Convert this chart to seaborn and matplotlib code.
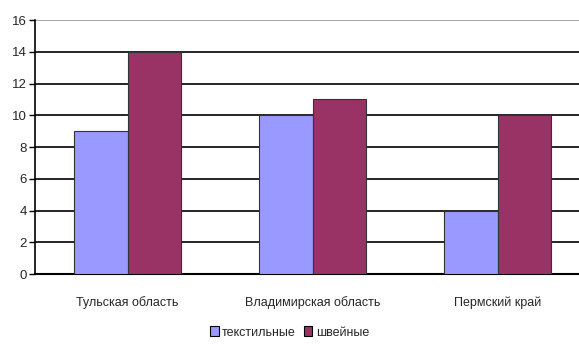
import matplotlib
matplotlib.use("Agg")
import matplotlib.pyplot as plt
import seaborn as sns
import pandas as pd
from matplotlib.patches import Patch

categories = ["Тульская область", "Владимирская область", "Пермский край"]
series_names = ["текстильные", "швейные"]
textile = [9, 10, 4]
sewing = [14, 11, 10]
yticks = [0, 2, 4, 6, 8, 10, 12, 14, 16]
colors = ["#9999FF", "#993366"]

df = pd.DataFrame({
    "cat": categories * 2,
    "series": [series_names[0]] * 3 + [series_names[1]] * 3,
    "val": textile + sewing,
})

sns.set_style("white")
plt.rcParams["font.family"] = ["Liberation Sans", "DejaVu Sans"]

fig = plt.figure(figsize=(5.79, 3.48), dpi=100)
ax = fig.add_axes([0.0605, 0.2126, 0.9585, 0.7299])

sns.barplot(data=df, x="cat", y="val", hue="series", palette=colors,
            saturation=1, width=0.575, edgecolor="#333333", linewidth=0.8, ax=ax,
            legend=False, zorder=3)

ax.set_ylim(0, 16)
ax.set_xlim(-0.5, 2.5)
ax.set_yticks(yticks)
ax.set_yticklabels([str(t) for t in yticks], fontsize=9.5)
ax.set_xticks(range(3))
ax.set_xticklabels(categories, fontsize=9)
ax.set_xticks([0.5, 1.5], minor=True)
ax.tick_params(axis="x", which="major", length=0, pad=16)
ax.tick_params(axis="x", which="minor", length=4, width=1, color="black", direction="out")
ax.tick_params(axis="y", length=4, width=1, color="black", direction="out", pad=2, left=True)
ax.set_xlabel("")
ax.set_ylabel("")

for y in yticks[1:]:
    ax.axhline(y, color="#999999" if y == 16 else "black", linewidth=1.2, zorder=1)

for s in ["top", "right"]:
    ax.spines[s].set_visible(False)
ax.spines["left"].set_color("black")
ax.spines["left"].set_linewidth(1.2)
ax.spines["bottom"].set_color("black")
ax.spines["bottom"].set_linewidth(1.5)

handles = [Patch(facecolor=c, edgecolor="black", linewidth=0.8) for c in colors]
fig.legend(handles, series_names, loc="center", bbox_to_anchor=(0.5, 0.045),
           ncol=2, frameon=False, fontsize=9, handlelength=0.7, handleheight=0.9,
           handletextpad=0.3, columnspacing=0.6)

fig.savefig("out.png", dpi=100)
